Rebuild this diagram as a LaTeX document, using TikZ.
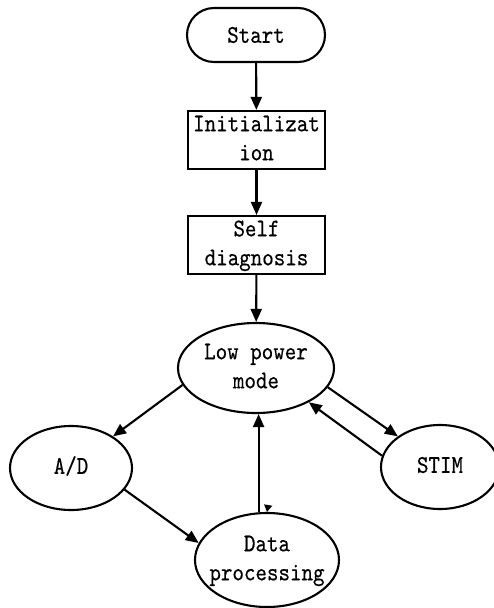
\documentclass[tikz,border=0pt]{standalone}
\usepackage{fontspec}
\newfontfamily\flowfont[FakeStretch=0.86,FakeBold=0.4]{lmmono10-regular.otf}
\usetikzlibrary{shapes.geometric,arrows.meta,calc}
\newcommand{\lbl}[1]{\makebox[0pt]{\begin{tabular}{@{}c@{}}#1\end{tabular}}}
\tikzset{
  every node/.style={font=\flowfont\fontsize{25.5}{29}\selectfont, inner sep=0pt, line width=2.1pt},
  terminal/.style={draw, rectangle, rounded corners=27pt, minimum width=138pt, minimum height=54pt},
  procbox/.style={draw, rectangle, minimum width=137pt, minimum height=55pt, align=center},
  state/.style={draw, ellipse},
  flow/.style={line width=2.1pt, -{Triangle[length=13pt,width=11pt]}},
  stubtip/.style={line width=1.2pt, -{Triangle[length=7pt,width=8pt]}},
}
\begin{document}
\begin{tikzpicture}[x=1pt,y=-1pt]
\useasboundingbox (0,0) rectangle (494,608);
\clip (0,0) rectangle (494,608);
\fill[white] (0,0) rectangle (494,608);
\node[terminal] (start) at (256,35) {Start};
\node[procbox] (init) at (256.5,140) {\lbl{Initializat\\ion}};
\node[procbox] (self) at (256.5,245) {\lbl{Self\\diagnosis}};
\node[state, minimum width=156pt, minimum height=90pt] (lpm) at (256,368) {\lbl{Low power\\mode}};
\node[state, minimum width=122pt, minimum height=84pt] (ad) at (71,468) {\lbl{A/D\\ }};
\node[state, minimum width=118pt, minimum height=84pt] (stim) at (440,467) {\lbl{STIM\\ }};
\node[state, minimum width=144pt, minimum height=94pt] (dp) at (267,560) {\lbl{Data\\processing}};
\coordinate (stub) at (268,506);
\draw[flow] (start) -- (init);
\draw[flow] (init) -- (self);
\draw[flow] (self) -- (lpm);
\draw[flow] (lpm.193) -- (ad.37);
\draw[flow] (ad.338) -- (dp.166);
\draw[flow] (dp.100) -- (dp.100 |- lpm.south);
\draw[stubtip] (stub) -- (dp.north);
\draw[flow] (lpm.345) -- (stim.144);
\draw[flow] (stim.169) -- (lpm.327);
\end{tikzpicture}
\end{document}
